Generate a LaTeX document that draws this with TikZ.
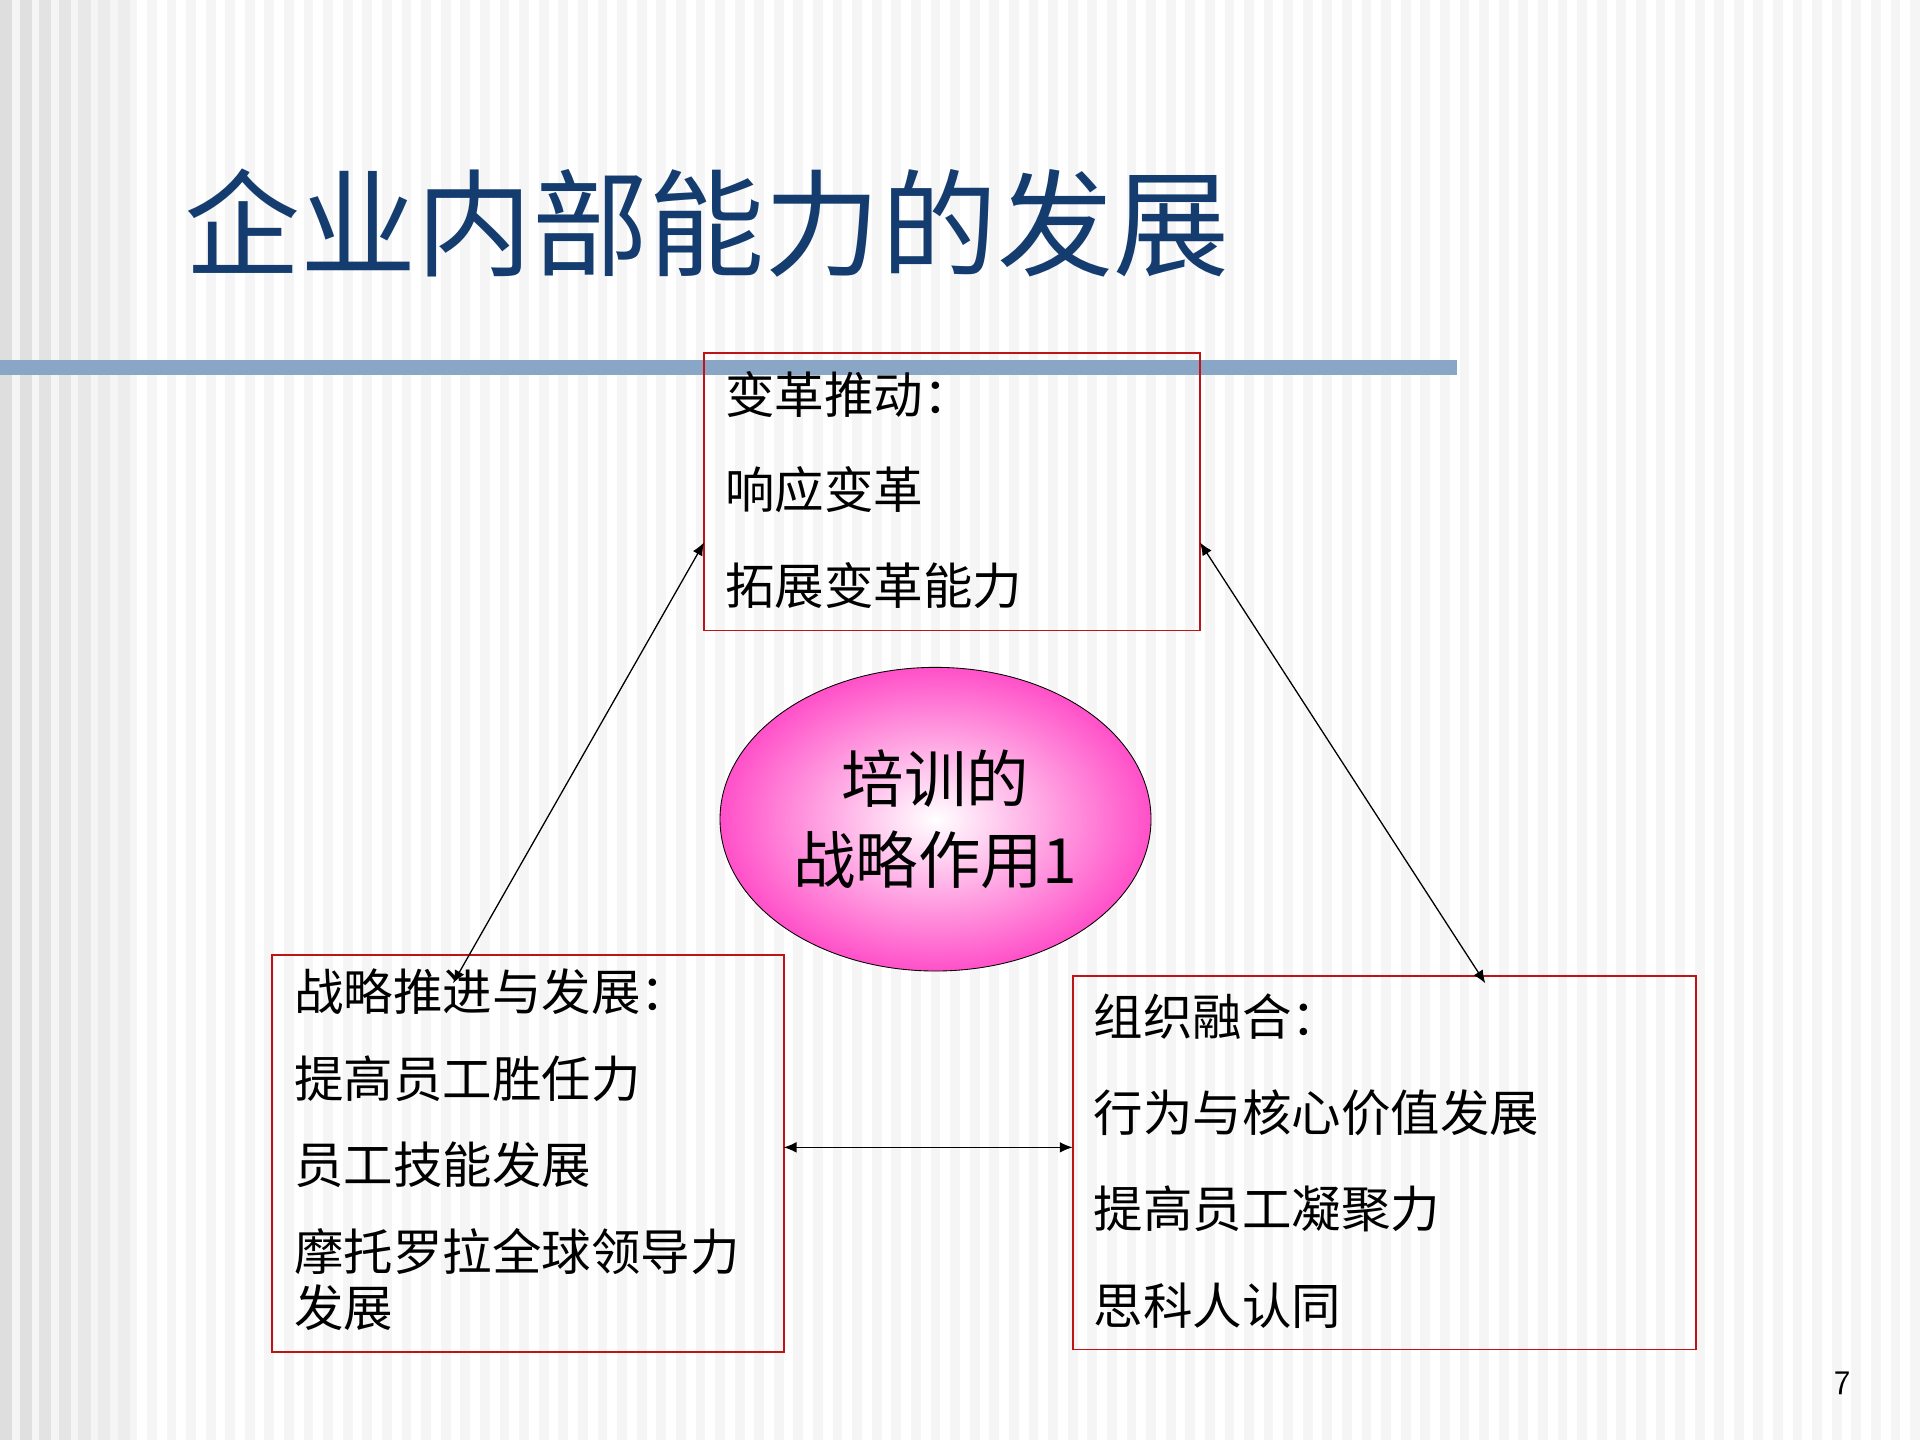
\documentclass[tikz,border=0pt]{standalone}
\usepackage{fontspec}
\newfontfamily\cjk{Noto Sans CJK SC}
\usetikzlibrary{arrows.meta}
\definecolor{titleblue}{RGB}{20,60,110}
\definecolor{barblue}{RGB}{138,166,198}
\definecolor{boxred}{RGB}{190,20,20}
\definecolor{pinkout}{RGB}{255,80,200}
\begin{document}
\begin{tikzpicture}[x=0.02cm,y=-0.02cm,
  box/.style={draw=boxred,line width=0.8pt},
  txt/.style={anchor=west,inner sep=0pt,font=\cjk\fontsize{23}{26}\selectfont},
  con/.style={line width=0.6pt,{Latex[length=6pt,width=5pt]}-{Latex[length=6pt,width=5pt]}}]
\useasboundingbox (0,0) rectangle (1568,1176);
\fill[black!4] (0,0) rectangle (1568,1176);
\foreach \x in {0,16,...,1560}{\fill[white] (\x,0) rectangle (\x+8,1176);}
\foreach \x/\c in {0/13,16/12,32/11,48/10,64/9,80/8,96/7}{\fill[black!\c] (\x,0) rectangle (\x+10,1176);}
\node[anchor=west,inner sep=0pt,text=titleblue,font=\cjk\fontsize{54}{60}\selectfont] (title) at (150,182) {企业内部能力的发展};
\fill[barblue] (0,294) rectangle (1190,306);
\draw[box] (575,288) rectangle (980,515);
\draw[box] (222,780) rectangle (640,1104);
\draw[box] (876,797) rectangle (1385,1102);
\shade[inner color=white,outer color=pinkout,draw=black] (764,669) ellipse [x radius=176,y radius=124];
\node[align=center,font=\cjk\fontsize{29}{38}\selectfont] (core) at (764,669) {培训的\\战略作用1};
\node[txt] (a1) at (592,322) {变革推动：};
\node[txt] (a2) at (592,400) {响应变革};
\node[txt] (a3) at (592,478) {拓展变革能力};
\node[txt] (b1) at (240,810) {战略推进与发展：};
\node[txt] (b2) at (240,881) {提高员工胜任力};
\node[txt] (b3) at (240,951) {员工技能发展};
\node[txt] (b4) at (240,1022) {摩托罗拉全球领导力};
\node[txt] (b5) at (240,1068) {发展};
\node[txt] (c1) at (893,830) {组织融合：};
\node[txt] (c2) at (893,909) {行为与核心价值发展};
\node[txt] (c3) at (893,987) {提高员工凝聚力};
\node[txt] (c4) at (893,1066) {思科人认同};
\node[font=\sffamily\fontsize{16}{18}\selectfont] (pg) at (1505,1130) {7};
\coordinate (p1) at (575,443); \coordinate (p2) at (370,803);
\coordinate (p3) at (980,443); \coordinate (p4) at (1213,803);
\coordinate (p5) at (640,937); \coordinate (p6) at (876,937);
\draw[con] (p1) -- (p2);
\draw[con] (p3) -- (p4);
\draw[con] (p5) -- (p6);
\end{tikzpicture}
\end{document}
